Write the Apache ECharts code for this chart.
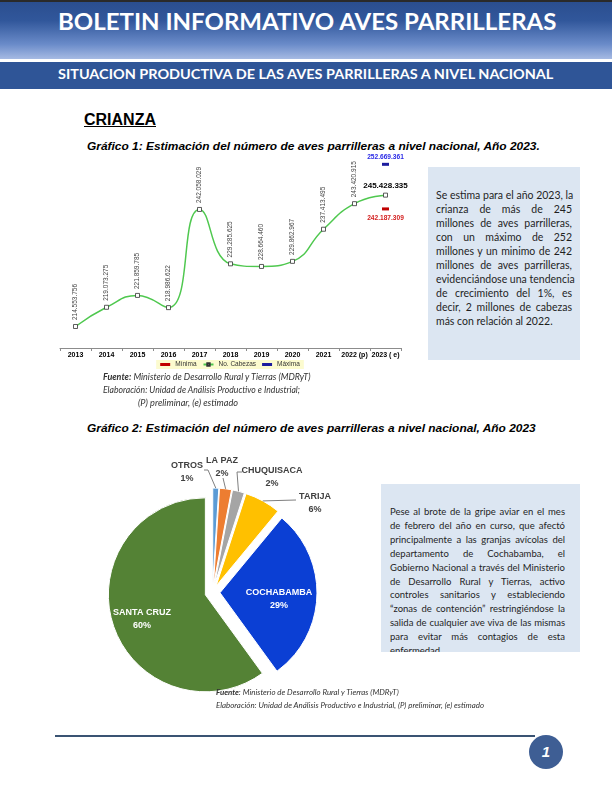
<!DOCTYPE html>
<html><head><meta charset="utf-8">
<script src="https://cdn.jsdelivr.net/npm/echarts@6/dist/echarts.min.js"></script>
<style>
body{margin:0;}
#page{position:relative;width:612px;height:792px;overflow:hidden;background:#fff;font-family:Lato,"Open Sans",sans-serif;}
.abs{position:absolute;white-space:nowrap;}
.fit{transform-origin:left center;}
.box{position:absolute;background:#dce6f2;overflow:hidden;}
.ln{white-space:nowrap;text-align:justify;text-align-last:justify;}
.ln.last{text-align-last:left;}
.arial{font-family:"Liberation Sans",Arial,sans-serif;}
.foot{font-style:italic;color:#333;}
</style></head>
<body><div id="page">
 <div style="position:absolute;left:0;top:0;width:612px;height:59px;background:linear-gradient(to bottom,#2a4d8e 0%,#31579b 35%,#6a8bc9 75%,#a6bae3 100%);"></div>
 <div style="position:absolute;left:0;top:0;width:612px;height:2px;background:#2a2a2a"></div>
 <div class="abs fit" data-w="498" style="left:58px;top:8px;line-height:28px;font-size:22px;font-weight:700;color:#fff;">BOLETIN INFORMATIVO AVES PARRILLERAS</div>
 <div style="position:absolute;left:0;top:62px;width:612px;height:27px;background:#2f5597"></div>
 <div class="abs fit" data-w="495" style="left:58px;top:66px;line-height:17px;font-size:13px;font-weight:700;color:#fff">SITUACION PRODUCTIVA DE LAS AVES PARRILLERAS A NIVEL NACIONAL</div>

 <div class="abs arial" style="left:84px;top:110px;line-height:20px;font-size:16px;font-weight:700;color:#000;text-decoration:underline;">CRIANZA</div>
 <div class="abs arial fit" data-w="453" style="left:87px;top:139px;line-height:14px;font-size:11px;font-weight:700;font-style:italic;color:#000;">Gráfico 1: Estimación del número de aves parrilleras a nivel nacional, Año 2023.</div>

 <div id="c1" style="position:absolute;left:40px;top:140px;width:380px;height:240px;"></div>

 <div class="abs foot fit" data-w="208" style="left:103px;top:371px;line-height:12px;font-size:9px;"><b>Fuente:</b> Ministerio de Desarrollo Rural y Tierras (MDRyT)</div>
 <div class="abs foot fit" data-w="197" style="left:103px;top:384px;line-height:12px;font-size:9px;">Elaboración: Unidad de Análisis Productivo e Industrial;</div>
 <div class="abs foot fit" data-w="100" style="left:138px;top:397px;line-height:12px;font-size:9px;">(P) preliminar, (e) estimado</div>

 <div class="box" style="left:428px;top:167px;width:152px;height:193px;">
  <div style="position:absolute;left:8px;top:21px;width:136px;font-size:10.5px;line-height:14px;color:#1f1f1f;">
   <div class="ln">Se estima para el año 2023, la</div>
   <div class="ln">crianza de más de 245</div>
   <div class="ln">millones de aves parrilleras,</div>
   <div class="ln">con un máximo de 252</div>
   <div class="ln">millones y un minimo de 242</div>
   <div class="ln">millones de aves parrilleras,</div>
   <div class="ln">evidenciándose una tendencia</div>
   <div class="ln">de crecimiento del 1%, es</div>
   <div class="ln">decir, 2 millones de cabezas</div>
   <div class="ln last">más con relación al 2022.</div>
  </div>
 </div>

 <div class="abs arial fit" data-w="449" style="left:87px;top:421px;line-height:14px;font-size:11px;font-weight:700;font-style:italic;color:#000;">Gráfico 2: Estimación del número de aves parrilleras a nivel nacional, Año 2023</div>

 <div id="c2" style="position:absolute;left:0px;top:430px;width:375px;height:280px;"></div>

 <div class="box" style="left:381px;top:484px;width:199px;height:168px;">
  <div style="position:absolute;left:9px;top:21px;width:175px;font-size:9.5px;line-height:13.9px;color:#1f1f1f;">
   <div class="ln">Pese al brote de la gripe aviar en el mes</div>
   <div class="ln">de febrero del año en curso, que afectó</div>
   <div class="ln">principalmente a las granjas avícolas del</div>
   <div class="ln">departamento de Cochabamba, el</div>
   <div class="ln">Gobierno Nacional a través del Ministerio</div>
   <div class="ln">de Desarrollo Rural y Tierras, activo</div>
   <div class="ln">controles sanitarios y estableciendo</div>
   <div class="ln">“zonas de contención” restringiéndose la</div>
   <div class="ln">salida de cualquier ave viva de las mismas</div>
   <div class="ln">para evitar más contagios de esta</div>
   <div class="ln last">enfermedad.</div>
  </div>
 </div>

 <div class="abs foot fit" data-w="183" style="left:216px;top:688px;line-height:10px;font-size:7.5px;"><b>Fuente</b>: Ministerio de Desarrollo Rural y Tierras (MDRyT)</div>
 <div class="abs foot fit" data-w="268" style="left:216px;top:701px;line-height:10px;font-size:7.5px;">Elaboración: Unidad de Análisis Productivo e Industrial, (P) preliminar, (e) estimado</div>

 <div style="position:absolute;left:55px;top:735px;width:480px;height:1.5px;background:#3a5373;"></div>
 <div class="arial" style="position:absolute;left:529px;top:735px;width:34px;height:34px;border-radius:50%;background:#3e5e94;color:#fff;font-size:15px;font-weight:700;font-style:italic;line-height:34px;text-align:center;">1</div>
</div>
<script>
// ---- Data: Gráfico 1 ----
const years = ['2013','2014','2015','2016','2017','2018','2019','2020','2021','2022 (p)','2023 ( e)'];
const cabezas = [214553756,219073275,221859785,218986622,242058029,229285625,228664460,229862967,237413495,243420915,245428335];
const minima = ['-','-','-','-','-','-','-','-','-','-',242187309];
const maxima = ['-','-','-','-','-','-','-','-','-','-',252669361];
// ---- Data: Gráfico 2 ----
const departamentos = ['OTROS','LA PAZ','CHUQUISACA','TARIJA','COCHABAMBA','SANTA CRUZ'];
const participacion = [1,2,2,6,29,60];

function fmt(v){ return String(v).replace(/\B(?=(\d{3})+(?!\d))/g,'.'); }

function fitAll(){
  document.querySelectorAll('.fit').forEach(function(el){
    el.style.transform='none';
    const w = el.offsetWidth;
    const t = parseFloat(el.getAttribute('data-w'));
    if (w>0) el.style.transform='scaleX('+(t/w)+')';
  });
}
fitAll();
if (document.fonts && document.fonts.ready) document.fonts.ready.then(fitAll);

const c1 = echarts.init(document.getElementById('c1'));
const lastIdx = cabezas.length-1;
c1.setOption({
  animation:false,
  grid:{left:20,right:19,top:14.4,bottom:32},
  legend:{data:[{name:'Mínima',icon:'rect'},{name:'No. Cabezas'},{name:'Máxima',icon:'rect'}],
    left:'center', top:220, backgroundColor:'#fcfbcf', padding:[1,4,1,4], itemGap:6, itemWidth:10, itemHeight:3,
    textStyle:{fontSize:6.5,color:'#333',fontFamily:'Liberation Sans'}},
  xAxis:{type:'category', data:years, boundaryGap:true,
    axisLine:{lineStyle:{color:'#8c8c8c',width:1}},
    axisTick:{show:true,length:3,lineStyle:{color:'#8c8c8c'}},
    axisLabel:{fontSize:7,fontWeight:'bold',color:'#000',margin:4,fontFamily:'Liberation Sans',interval:0}},
  yAxis:{type:'value', min:209500000, max:255000000, show:false, splitLine:{show:false}},
  series:[
    {name:'No. Cabezas', type:'line', smooth:0.5,
     data: cabezas.map(function(v,i){
       if(i===lastIdx) return {value:v, label:{rotate:0,align:'center',verticalAlign:'bottom',position:'top',distance:3,fontSize:8,fontWeight:'bold',color:'#000'}};
       return v; }),
     lineStyle:{color:'#4fc84f',width:1.5},
     symbol:'rect', symbolSize:4,
     itemStyle:{color:'#fff',borderColor:'#333',borderWidth:0.8},
     label:{show:true,position:'top',rotate:90,align:'left',verticalAlign:'middle',distance:4,fontSize:6.5,color:'#444',fontFamily:'Liberation Sans',
       formatter:function(p){return fmt(p.value);}},
     z:2},
    {name:'Mínima', type:'line', data:minima, symbol:'rect', symbolSize:[7,3], showSymbol:true,
     itemStyle:{color:'#c00000'}, lineStyle:{color:'#c00000'},
     label:{show:true,position:'bottom',distance:4,fontSize:6.6,fontWeight:'bold',color:'#d42020',fontFamily:'Liberation Sans',
       formatter:function(p){return fmt(p.value);}}, z:3},
    {name:'Máxima', type:'line', data:maxima, symbol:'rect', symbolSize:[7,3], showSymbol:true,
     itemStyle:{color:'#1c1c9e'}, lineStyle:{color:'#1c1c9e'},
     label:{show:true,position:'top',distance:2,fontSize:6.6,fontWeight:'bold',color:'#2a2ae6',fontFamily:'Liberation Sans',
       formatter:function(p){return fmt(p.value);}}, z:3}
  ]
});

// ---- Pie ----
const c2 = echarts.init(document.getElementById('c2'));
const pieColors = ['#5b9bd5','#ed7d31','#a5a5a5','#ffc000','#0b3fd4','#548235'];
const pieCenter = [212.5,162.5], pieR = 97, pieOff = 7.5;
const total = participacion.reduce(function(a,b){return a+b;},0);
function startPt(i){
  let s=0; for(let k=0;k<i;k++) s+=participacion[k];
  const th=(s+participacion[i]/2)/total*2*Math.PI;
  const d=pieR+pieOff;
  return [pieCenter[0]+d*Math.sin(th), pieCenter[1]-d*Math.cos(th)];
}
// label placement (style): centre of each label block, optional leader line
const labelPos = {
  'OTROS':{x:187,y:42,color:'#404040',line:function(s){return [s,[208,40],[204,40]];}},
  'LA PAZ':{x:222,y:37,color:'#404040',line:function(s){return [s,[223,48]];}},
  'CHUQUISACA':{x:272,y:47,color:'#404040',line:function(s){return [s,[237,42],[242,42]];}},
  'TARIJA':{x:315,y:73,color:'#404040',line:function(s){return [s,[296,70]];}},
  'COCHABAMBA':{x:279,y:169.5,color:'#ffffff'},
  'SANTA CRUZ':{x:142,y:189.5,color:'#ffffff'}
};
const graphics = [];
departamentos.forEach(function(n,i){
  const L = labelPos[n];
  if (L.line) {
    graphics.push({type:'polyline', shape:{points:L.line(startPt(i))}, style:{stroke:'#7f7f7f',lineWidth:1,fill:null}, z:10});
  }
  graphics.push({type:'text', x:L.x, y:L.y, z:11,
    style:{text:n+'\n'+participacion[i]+'%', fill:L.color, font:'bold 9px "Liberation Sans", Arial, sans-serif',
      lineHeight:13, align:'center', verticalAlign:'middle'}});
});
c2.setOption({
  animation:false,
  graphic: graphics,
  series:[{
    type:'pie', center:pieCenter, radius:pieR, startAngle:90, clockwise:true,
    selectedMode:'multiple', selectedOffset:pieOff, avoidLabelOverlap:false,
    emphasis:{disabled:true},
    itemStyle:{borderColor:'#fff',borderWidth:1},
    label:{show:false}, labelLine:{show:false},
    data: departamentos.map(function(n,i){
      return {name:n, value:participacion[i], selected:true, itemStyle:{color:pieColors[i]}};
    })
  }]
});
</script>
</body></html>
